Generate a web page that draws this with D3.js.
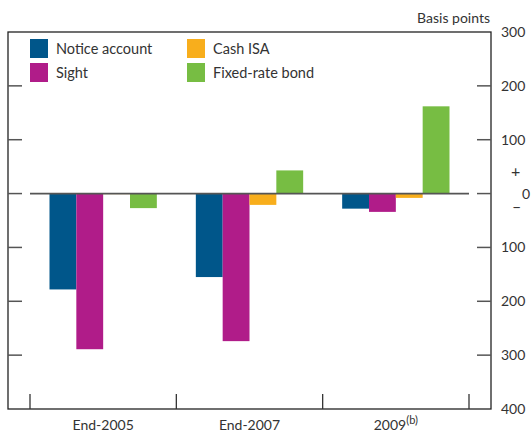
<!DOCTYPE html>
<html>
<head>
<meta charset="utf-8">
<script src="https://cdn.jsdelivr.net/npm/d3@7"></script>
<style>
  body { margin: 0; background: #fff; }
  text { font-family: Lato, "Open Sans", sans-serif; fill: #333; }
</style>
</head>
<body>
<svg id="drawing_region"></svg>
<script>
const categories = ['End-2005', 'End-2007', '2009'];
const series = ['Notice account', 'Sight', 'Cash ISA', 'Fixed-rate bond'];
const colors = ['#00568a', '#b01c89', '#f8ae1c', '#77bd43'];
const notice = [-178, -155, -28];
const sight = [-289, -274, -34];
const cashIsa = [-1, -21, -8];
const fixedRate = [-27, 43, 162];
const yTicks = [300, 200, 100, 0, -100, -200, -300, -400];
const yTickLabels = ['300', '200', '100', '0', '100', '200', '300', '400'];

const values = [notice, sight, cashIsa, fixedRate];

const config = {
    width: 531,
    height: 434,
    frame: {left: 8, right: 491, top: 32, bottom: 409}
};

const svg = d3.select('#drawing_region')
    .attr('width', config.width)
    .attr('height', config.height);

const f = config.frame;

const yscale = d3.scaleLinear()
    .domain([-400, 300])
    .range([f.bottom, f.top]);

const xscale = d3.scaleBand()
    .domain(categories)
    .range([30, 469]);

const x1 = d3.scaleBand()
    .domain(series)
    .range([19.5, xscale.bandwidth() - 19.5]);

// frame
svg.append('rect')
    .attr('x', f.left)
    .attr('y', f.top)
    .attr('width', f.right - f.left)
    .attr('height', f.bottom - f.top)
    .attr('fill', 'none')
    .attr('stroke', '#222')
    .attr('stroke-width', 1.3);

// y ticks, inside left and right
const yt = yTicks.filter(d => d !== 300 && d !== -400);
svg.selectAll('line.yl')
    .data(yt)
    .enter()
    .append('line')
    .attr('x1', f.left)
    .attr('x2', f.left + 14)
    .attr('y1', d => yscale(d))
    .attr('y2', d => yscale(d))
    .attr('stroke', '#555')
    .attr('stroke-width', 1.5);
svg.selectAll('line.yr')
    .data(yt)
    .enter()
    .append('line')
    .attr('x1', f.right - 14)
    .attr('x2', f.right)
    .attr('y1', d => yscale(d))
    .attr('y2', d => yscale(d))
    .attr('stroke', '#555')
    .attr('stroke-width', 1.5);

// bars
const rows = [];
categories.forEach((c, i) => {
    series.forEach((s, j) => rows.push({cat: c, key: s, value: values[j][i], color: colors[j]}));
});

svg.append('g')
    .selectAll('rect')
    .data(rows)
    .enter()
    .append('rect')
    .attr('x', d => xscale(d.cat) + x1(d.key))
    .attr('y', d => yscale(Math.max(0, d.value)))
    .attr('width', x1.bandwidth())
    .attr('height', d => Math.abs(yscale(d.value) - yscale(0)))
    .attr('fill', d => d.color);

// zero line
svg.append('line')
    .attr('x1', xscale.range()[0])
    .attr('x2', xscale.range()[1])
    .attr('y1', yscale(0))
    .attr('y2', yscale(0))
    .attr('stroke', '#555')
    .attr('stroke-width', 1.8);

// bottom ticks
const xb = categories.map(c => xscale(c)).concat([xscale.range()[1]]);
svg.selectAll('line.xt')
    .data(xb)
    .enter()
    .append('line')
    .attr('x1', d => d)
    .attr('x2', d => d)
    .attr('y1', f.bottom - 15)
    .attr('y2', f.bottom)
    .attr('stroke', '#333')
    .attr('stroke-width', 1.3);

// category labels
const lab = svg.selectAll('text.cat')
    .data(categories)
    .enter()
    .append('text')
    .attr('x', d => xscale(d) + xscale.bandwidth() / 2)
    .attr('y', 430)
    .attr('text-anchor', 'middle')
    .attr('font-size', 14)
    .text(d => d);
lab.filter(d => d === '2009')
    .append('tspan')
    .attr('dy', -6)
    .attr('font-size', 11)
    .text('(b)');

// right axis labels
svg.selectAll('text.yl')
    .data(yTicks)
    .enter()
    .append('text')
    .attr('x', 501)
    .attr('y', d => yscale(d) + 5)
    .attr('font-size', 14)
    .text((d, i) => yTickLabels[i])
    .attr('dx', d => d === 0 ? 21 : 0);

svg.append('text').attr('x', 511).attr('y', 177).attr('font-size', 16).text('+');
svg.append('text').attr('x', 512).attr('y', 212).attr('font-size', 16).text('\u2013');

svg.append('text')
    .attr('x', 490)
    .attr('y', 23)
    .attr('text-anchor', 'end')
    .attr('font-size', 14)
    .text('Basis points');

// legend
const legend = svg.append('g');
const legPos = [[30, 39], [30, 63], [187, 39], [187, 63]];
series.forEach((s, i) => {
    legend.append('rect')
        .attr('x', legPos[i][0])
        .attr('y', legPos[i][1])
        .attr('width', 18)
        .attr('height', 19)
        .attr('fill', colors[i]);
    legend.append('text')
        .attr('x', legPos[i][0] + 26)
        .attr('y', legPos[i][1] + 15)
        .attr('font-size', 14.5)
        .text(s);
});
</script>
</body>
</html>
